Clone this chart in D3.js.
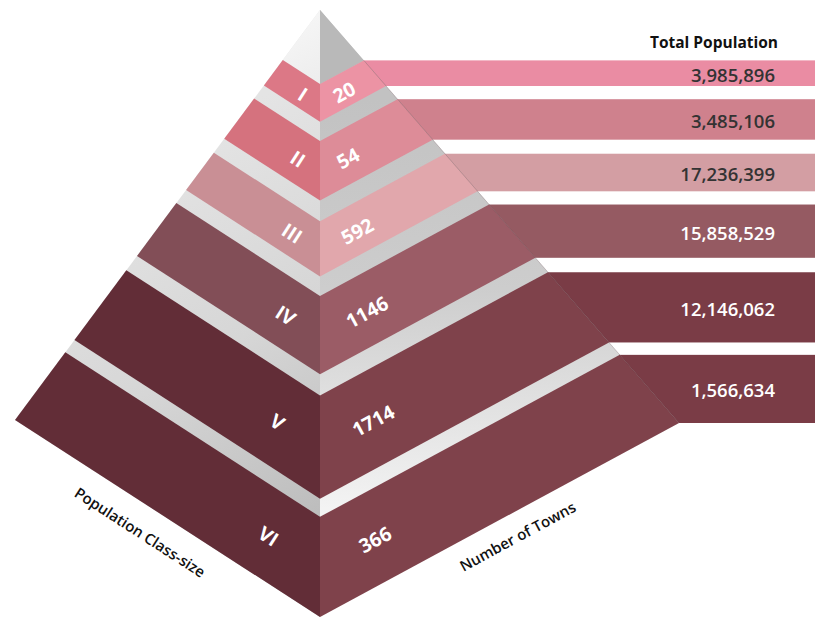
<!DOCTYPE html>
<html>
<head>
<meta charset="utf-8">
<script src="https://cdnjs.cloudflare.com/ajax/libs/d3/7.8.5/d3.min.js"></script>
<style>
  html, body { margin: 0; padding: 0; background: #ffffff; }
  svg { display: block; }
  text { font-family: "Open Sans", "Noto Sans", sans-serif; }
</style>
</head>
<body>
<script>
// ---- data ----
const classes = ["I", "II", "III", "IV", "V", "VI"];
const towns = [20, 54, 592, 1146, 1714, 366];
const population = [3985896, 3485106, 17236399, 15858529, 12146062, 1566634];
const headerLabel = "Total Population";
const leftTitle = "Population Class-size";
const rightTitle = "Number of Towns";

// ---- palette ----
const leftColors  = ["#dc7886", "#d5727e", "#c98f95", "#824e57", "#622d37", "#622d37"];
const rightColors = ["#ec93a4", "#dd8c98", "#e1a7ac", "#9b5c66", "#7f424b", "#7f424b"];
const barColors   = ["#ea8ca3", "#cf818d", "#d39ea3", "#955a62", "#7a3c46", "#7a3c46"];
const numColors   = ["#333333", "#333333", "#333333", "#ffffff", "#ffffff", "#ffffff"];

// ---- layout ----
const W = 815, H = 617;
const apex = [320, 10], LB = [15, 420], F = [320, 617], RB = [679, 423];
// band extents along pyramid height (0 = apex, 1 = base)
const bandStops = [[0.122, 0.184], [0.216, 0.314], [0.348, 0.439], [0.471, 0.600], [0.635, 0.805], [0.835, 1.0]];

function edgeScale(p, q) {
  const sx = d3.scaleLinear().domain([0, 1]).range([p[0], q[0]]);
  const sy = d3.scaleLinear().domain([0, 1]).range([p[1], q[1]]);
  return t => [sx(t), sy(t)];
}
const L = edgeScale(apex, LB);
const C = edgeScale(apex, F);
const R = edgeScale(apex, RB);
const lerp = (p, q, f) => [p[0] + (q[0] - p[0]) * f, p[1] + (q[1] - p[1]) * f];
const line = d3.line();
const fmt = d3.format(",");

const svg = d3.select("body").append("svg").attr("width", W).attr("height", H);
const defs = svg.append("defs");

function grad(id, x1, y1, x2, y2, stops) {
  const g = defs.append("linearGradient").attr("id", id)
    .attr("gradientUnits", "userSpaceOnUse")
    .attr("x1", x1).attr("y1", y1).attr("x2", x2).attr("y2", y2);
  stops.forEach(s => g.append("stop").attr("offset", s[0]).attr("stop-color", s[1]));
}
grad("leftGap", 120, 180, 320, 520, [[0, "#e4e4e4"], [0.5, "#d6d6d6"], [1, "#bcbcbc"]]);
grad("rightGap", 320, 100, 320, 520, [[0, "#c2c2c2"], [0.45, "#cdcdcd"], [1, "#f5f5f5"]]);
grad("leftApex", 280, 20, 320, 90, [[0, "#f7f7f7"], [1, "#ececec"]]);

// ---- bars (behind the pyramid) ----
const bars = svg.append("g");
bandStops.forEach((b, i) => {
  const y0 = R(b[0])[1], y1 = R(b[1])[1];
  bars.append("rect")
    .attr("x", 320).attr("y", y0)
    .attr("width", W - 320).attr("height", y1 - y0)
    .attr("fill", barColors[i]);
});

// ---- pyramid faces ----
const pyr = svg.append("g");
pyr.append("path").attr("d", line([apex, LB, F]) + "Z").attr("fill", "url(#leftGap)");
pyr.append("path").attr("d", line([apex, F, RB]) + "Z").attr("fill", "url(#rightGap)");
pyr.append("path").attr("d", line([apex, L(bandStops[0][0]), C(bandStops[0][0])]) + "Z").attr("fill", "url(#leftApex)");
pyr.append("path").attr("d", line([apex, C(bandStops[0][0]), R(bandStops[0][0])]) + "Z").attr("fill", "#b9b9b9");

bandStops.forEach((b, i) => {
  pyr.append("path")
    .attr("d", line([L(b[0]), C(b[0]), C(b[1]), L(b[1])]) + "Z")
    .attr("fill", leftColors[i]);
  pyr.append("path")
    .attr("d", line([C(b[0]), R(b[0]), R(b[1]), C(b[1])]) + "Z")
    .attr("fill", rightColors[i]);
});
// faint right edge line
pyr.append("path").attr("d", line([R(bandStops[0][0]), RB]))
  .attr("stroke", "rgba(60,20,30,0.35)").attr("stroke-width", 0.6).attr("fill", "none");

// ---- bar numbers ----
svg.append("text")
  .attr("x", 778).attr("y", 42)
  .attr("text-anchor", "end").attr("dominant-baseline", "central")
  .attr("font-size", 15.5).attr("font-weight", 700).attr("fill", "#111")
  .text(headerLabel);

bandStops.forEach((b, i) => {
  const y0 = R(b[0])[1], y1 = R(b[1])[1];
  svg.append("text")
    .attr("x", 775).attr("y", (y0 + y1) / 2 + 1)
    .attr("text-anchor", "end").attr("dominant-baseline", "central")
    .attr("font-size", 18.5).attr("font-weight", 600)
    .attr("fill", numColors[i])
    .text(fmt(population[i]));
});

// ---- face labels ----
const angL = Math.atan2(F[1] - LB[1], F[0] - LB[0]) * 180 / Math.PI;
const angR = Math.atan2(RB[1] - F[1], RB[0] - F[0]) * 180 / Math.PI;

bandStops.forEach((b, i) => {
  const tm = (b[0] + b[1]) / 2;
  const c = C(tm), l = L(tm), r = R(tm);
  const offL = 10 + 45 * tm;
  const pL = lerp(c, l, offL / (c[0] - l[0]));
  svg.append("text")
    .attr("transform", `translate(${pL[0]},${pL[1] + 2}) rotate(${angL})`)
    .attr("text-anchor", "middle").attr("dominant-baseline", "central")
    .attr("font-size", 19.5).attr("font-weight", 700).attr("fill", "#ffffff")
    .text(classes[i]);
  const offR = 9 + 34 * tm;
  const pR = lerp(c, r, offR / (r[0] - c[0]));
  svg.append("text")
    .attr("transform", `translate(${pR[0]},${pR[1] + 2}) rotate(${angR})`)
    .attr("text-anchor", "start").attr("dominant-baseline", "central")
    .attr("font-size", 19.5).attr("font-weight", 700).attr("fill", "#ffffff")
    .text(towns[i]);
});

// ---- face titles ----
function edgeLabel(p, q, f, d, ang, txt) {
  const len = Math.hypot(q[0] - p[0], q[1] - p[1]);
  const ux = (q[0] - p[0]) / len, uy = (q[1] - p[1]) / len;
  let nx = -uy, ny = ux;
  if (ny < 0) { nx = -nx; ny = -ny; }
  const x = p[0] + (q[0] - p[0]) * f + nx * d;
  const y = p[1] + (q[1] - p[1]) * f + ny * d;
  svg.append("text")
    .attr("transform", `translate(${x},${y}) rotate(${ang})`)
    .attr("text-anchor", "middle").attr("dominant-baseline", "central")
    .attr("font-size", 15).attr("font-weight", 600).attr("fill", "#111")
    .text(txt);
}
edgeLabel(LB, F, 0.457, 26, angL, leftTitle);
edgeLabel(F, RB, 0.52, 22.6, angR, rightTitle);
</script>
</body>
</html>
